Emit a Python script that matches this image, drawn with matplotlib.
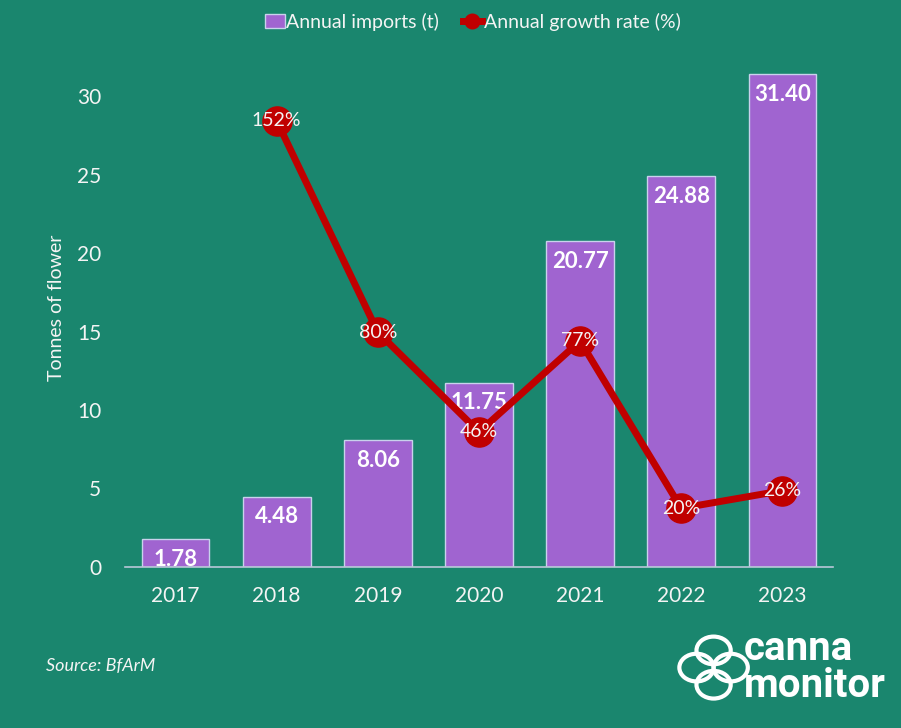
import matplotlib.pyplot as plt
from matplotlib.patches import Circle

years = ['2017', '2018', '2019', '2020', '2021', '2022', '2023']
imports_t = [1.78, 4.48, 8.06, 11.75, 20.77, 24.88, 31.40]
growth_years = ['2018', '2019', '2020', '2021', '2022', '2023']
growth_pct = [152, 80, 46, 77, 20, 26]

bg = '#1a866e'
bar_color = '#a064d0'
red = '#c00000'
white = '#f4f4f4'

plt.rcParams['font.family'] = ['Lato', 'DejaVu Sans']

fig = plt.figure(figsize=(9.01, 7.28), dpi=100, facecolor=bg)
ax = fig.add_axes([0.1387, 0.2212, 0.7858, 0.7115])
ax.set_facecolor(bg)

x = list(range(len(years)))
bars = ax.bar(x, imports_t, width=0.67, color=bar_color, edgecolor='#c8d2ec',
              linewidth=1.0, label='Annual imports (t)', zorder=2)
for xi, v in zip(x, imports_t):
    ax.annotate(f'{v:.2f}', (xi, v), xytext=(0, -7), textcoords='offset points',
                ha='center', va='top', color='white', fontsize=16,
                fontweight='bold', zorder=5)

ax.set_xlim(-0.5, 6.5)
ax.set_ylim(0, 33)
ax.set_yticks([0, 5, 10, 15, 20, 25, 30])
ax.set_xticks(x)
ax.set_xticklabels(years)
ax.tick_params(colors=white, labelsize=15, length=0, pad=14)
ax.tick_params(axis='y', pad=17)
for s in ['top', 'right', 'left']:
    ax.spines[s].set_visible(False)
ax.spines['bottom'].set_color('#b8c8d8')
ax.spines['bottom'].set_linewidth(1.2)
ax.set_ylabel('Tonnes of flower', color=white, fontsize=14, labelpad=9)

ax2 = ax.twinx()
ax2.set_ylim(0, 33 / 0.187)
gx = [years.index(y) for y in growth_years]
ax2.plot(gx, growth_pct, color=red, linewidth=5, marker='o', markersize=21,
         label='Annual growth rate (%)', zorder=3)
for xi, v in zip(gx, growth_pct):
    ax2.text(xi, v, f'{v}%', ha='center', va='center', color=white,
             fontsize=14, zorder=6)
ax2.axis('off')

h1, l1 = ax.get_legend_handles_labels()
h2, l2 = ax2.get_legend_handles_labels()
leg = fig.legend(h1 + h2, l1 + l2, loc='center', bbox_to_anchor=(0.525, 0.97),
                 ncol=2, frameon=False, fontsize=14, labelcolor=white,
                 handlelength=1.0, handletextpad=0.1, columnspacing=1.2,
                 markerscale=0.5)

fig.text(0.051, 0.078, 'Source: BfArM', color=white, fontsize=13,
         style='italic')

# logo
fig.text(0.826, 0.108, 'canna', color='white', fontsize=29,
         fontweight='bold', family='Roboto', va='center')
fig.text(0.826, 0.058, 'monitor', color='white', fontsize=29,
         fontweight='bold', family='Roboto', va='center')
cx, cy = 0.792, 0.083
r = 0.019
for dx, dy in [(-r, 0), (r, 0), (0, r * 1.24), (0, -r * 1.24)]:
    fig.patches.append(Circle((cx + dx, cy + dy), r, transform=fig.transFigure,
                              fill=False, edgecolor='white', linewidth=3))

fig.savefig('out.png', dpi=100, facecolor=bg)
